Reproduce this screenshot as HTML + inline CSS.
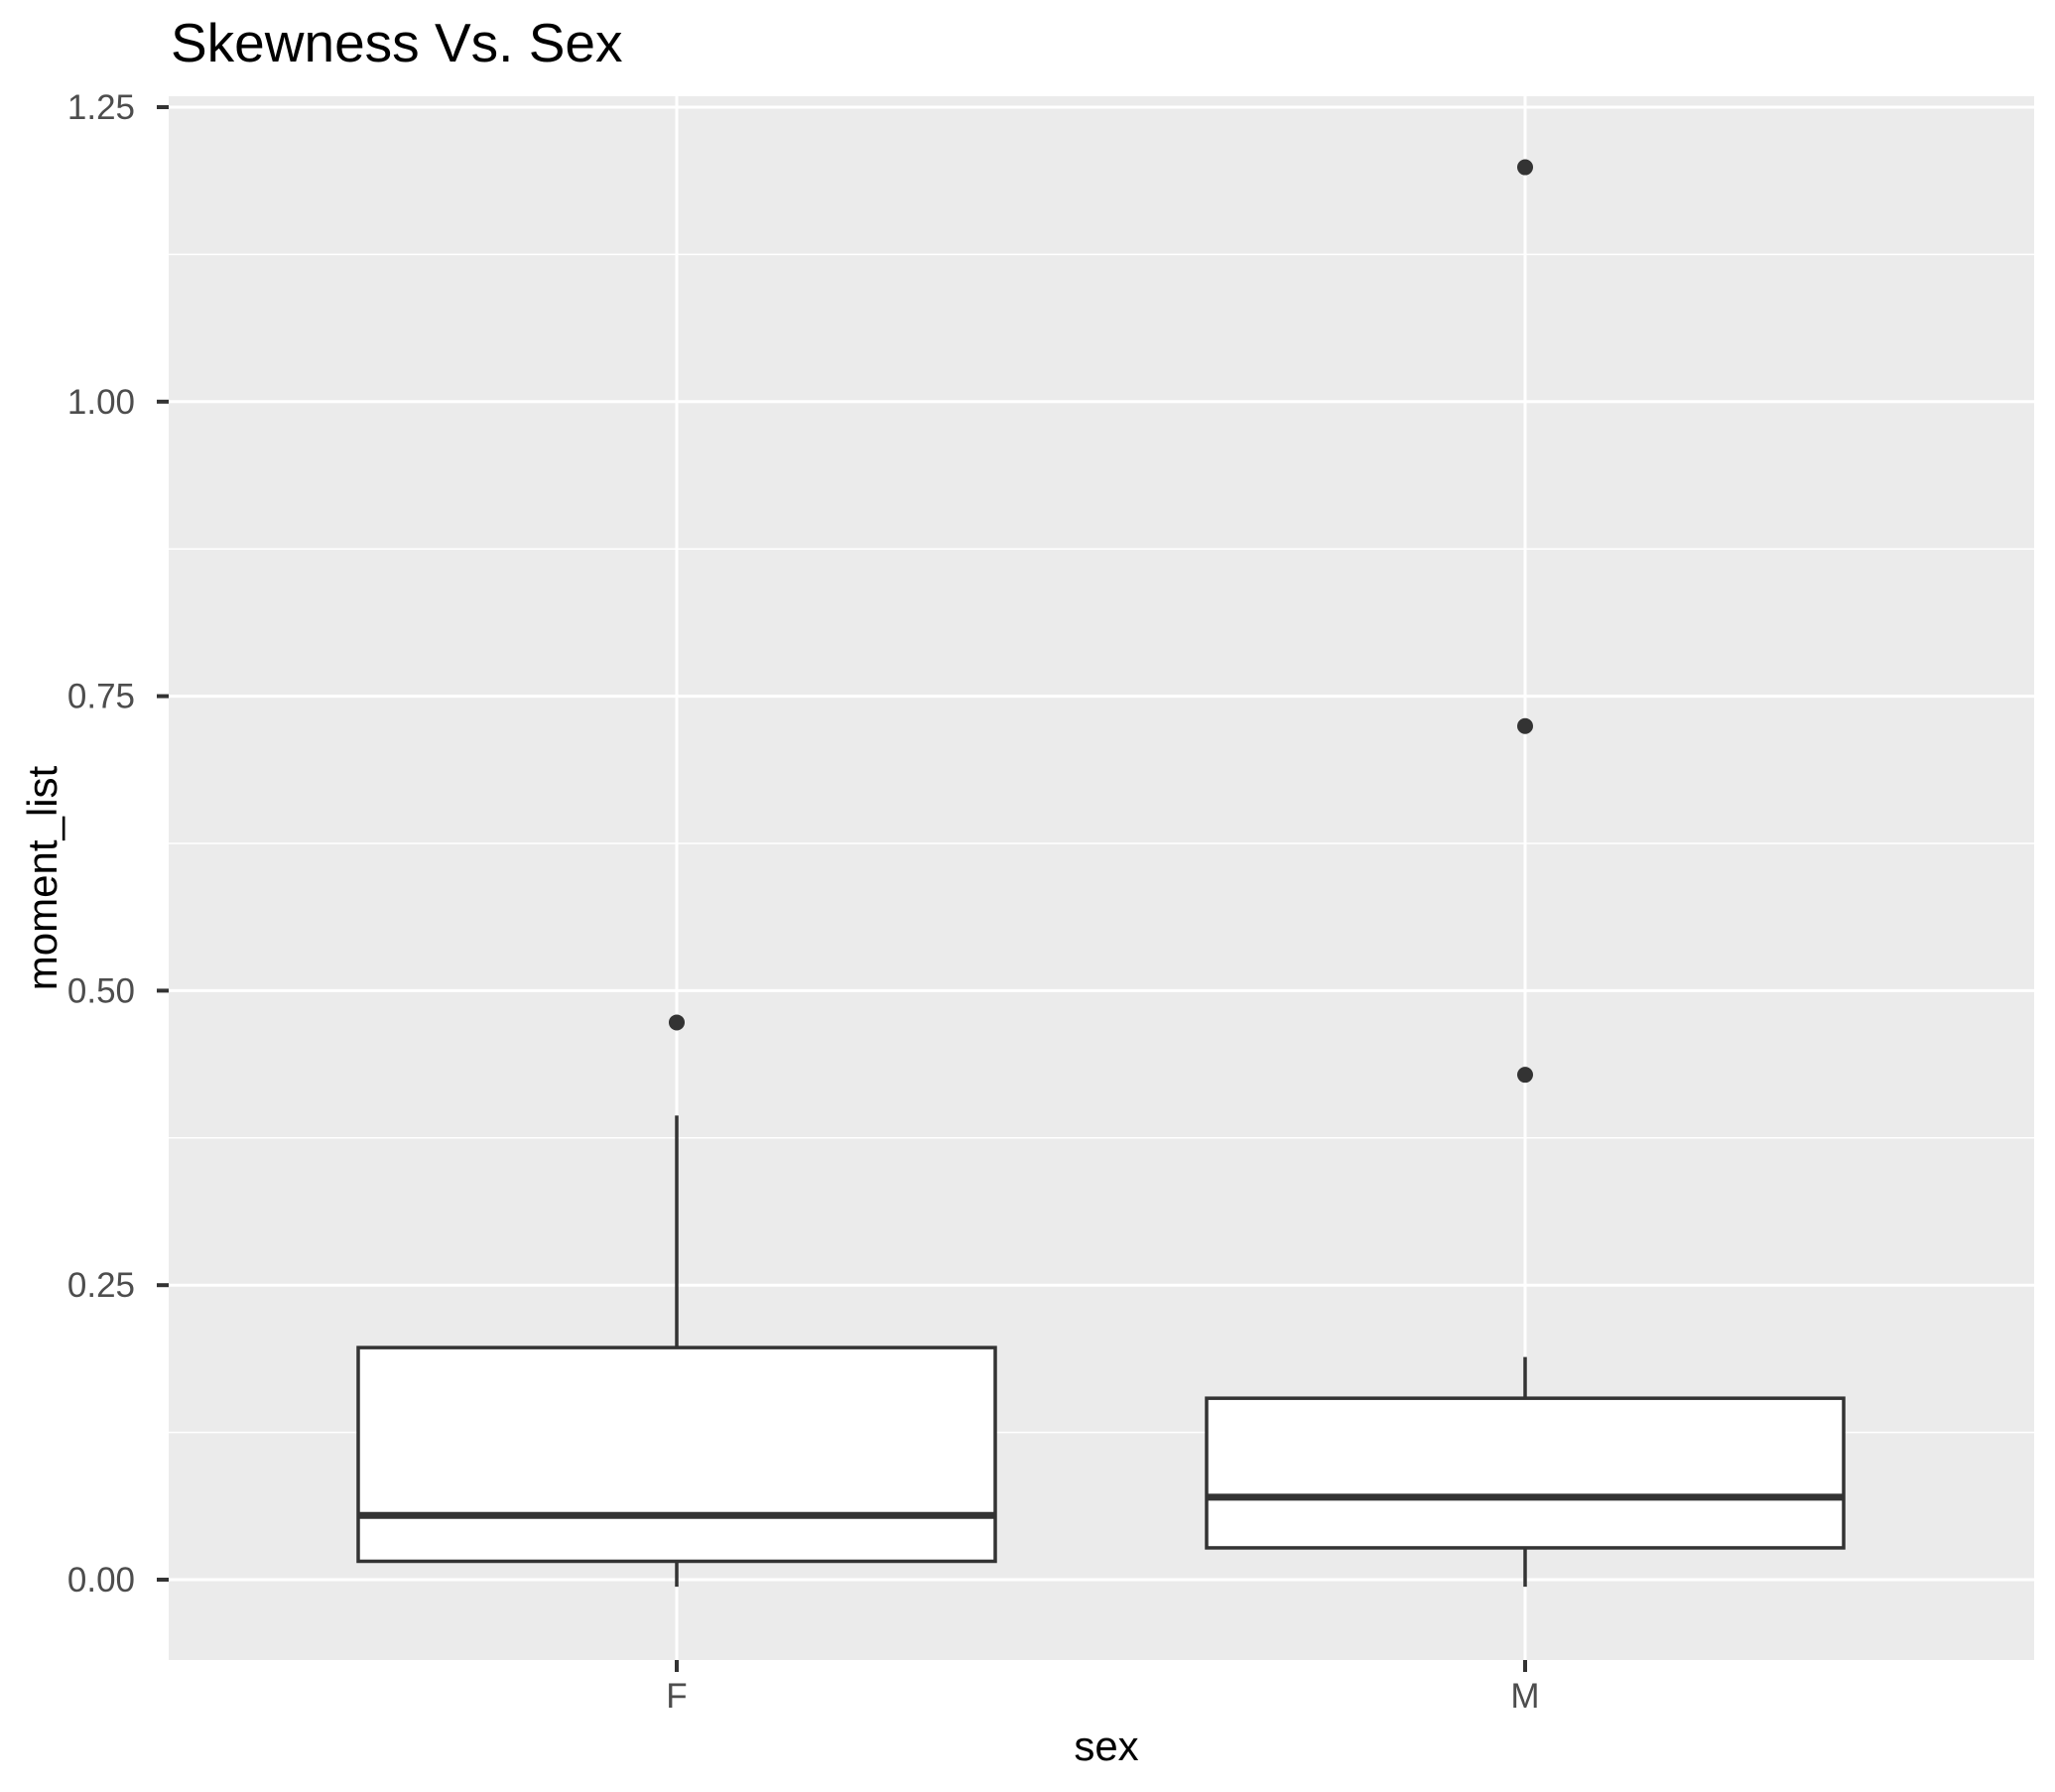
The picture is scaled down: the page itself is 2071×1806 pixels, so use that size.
<!DOCTYPE html>
<html><head><meta charset="utf-8"><style>
html,body{margin:0;padding:0;background:#fff}
svg{display:block;font-family:"Liberation Sans",Arial,sans-serif}
</style></head><body>
<svg id="chart" width="2071" height="1806" viewBox="0 0 2071 1806">
<text x="172" y="62" font-size="55" fill="#000">Skewness Vs. Sex</text>
<rect x="170" y="97" width="1880" height="1576" fill="#ebebeb"/>
<g id="grid"></g><g id="marks"></g><g id="axes"></g>
<text x="1115" y="1774" font-size="42" text-anchor="middle" fill="#000">sex</text>
<text transform="translate(57,885) rotate(-90)" font-size="42" text-anchor="middle" fill="#000">moment_list</text>
</svg>
<script>
const categories = ["F","M"];
const lowerWhisker = [-0.006,-0.006];
const q1 = [0.0156,0.027];
const median = [0.0545,0.070];
const q3 = [0.197,0.154];
const upperWhisker = [0.394,0.189];
const outliersF = [0.473];
const outliersM = [0.4286,0.7246,1.199];
const yTicks = [0,0.25,0.5,0.75,1.0,1.25];
const yTickLabels = ["0.00","0.25","0.50","0.75","1.00","1.25"];

const NS="http://www.w3.org/2000/svg";
const y = v => 1592 - v*1187.2;
const x = i => 682 + i*855;
const halfW = 321;
function mk(tag, attrs, parent){const e=document.createElementNS(NS,tag);for(const k in attrs)e.setAttribute(k,attrs[k]);document.getElementById(parent).appendChild(e);return e;}
for(let i=0;i<yTicks.length-1;i++){
  const g=mk('line',{x1:170,x2:2050,y1:y((yTicks[i]+yTicks[i+1])/2),y2:y((yTicks[i]+yTicks[i+1])/2),stroke:'#fff','stroke-width':1.5},'grid');
  
  
}
yTicks.forEach((t,i)=>{
  const g=mk('line',{x1:170,x2:2050,y1:y(t),y2:y(t),stroke:'#fff','stroke-width':3},'grid');
  
  
  const tk=mk('line',{x1:158,x2:170,y1:y(t),y2:y(t),stroke:'#333','stroke-width':4},'axes');
  
  
  const lb=mk('text',{x:136,y:y(t)+12,'font-size':35,'text-anchor':'end',fill:'#4d4d4d'},'axes');
  lb.textContent=yTickLabels[i];
  
  
});
categories.forEach((c,i)=>{
  const g=mk('line',{x1:x(i),x2:x(i),y1:97,y2:1673,stroke:'#fff','stroke-width':3},'grid');
  
  
  const tk=mk('line',{x1:x(i),x2:x(i),y1:1673,y2:1685,stroke:'#333','stroke-width':4},'axes');
  
  
  const lb=mk('text',{x:x(i),y:1721,'font-size':35,'text-anchor':'middle',fill:'#4d4d4d'},'axes');
  lb.textContent=c;
  
  
  const w1=mk('line',{x1:x(i),x2:x(i),y1:y(lowerWhisker[i]),y2:y(q1[i]),stroke:'#333','stroke-width':3.5},'marks');
  
  
  const w2=mk('line',{x1:x(i),x2:x(i),y1:y(upperWhisker[i]),y2:y(q3[i]),stroke:'#333','stroke-width':3.5},'marks');
  
  
  const b=mk('rect',{x:x(i)-halfW,y:y(q3[i]),width:2*halfW,height:y(q1[i])-y(q3[i]),fill:'#fff',stroke:'#333','stroke-width':3.5},'marks');
  
  
  const m=mk('line',{x1:x(i)-halfW,x2:x(i)+halfW,y1:y(median[i]),y2:y(median[i]),stroke:'#333','stroke-width':7},'marks');
  
  
  const outs = i===0?outliersF:outliersM;
  outs.forEach(v=>{
    const p=mk('circle',{cx:x(i),cy:y(v),r:8,fill:'#333'},'marks');
    
    
  });
});
</script>
</body></html>
